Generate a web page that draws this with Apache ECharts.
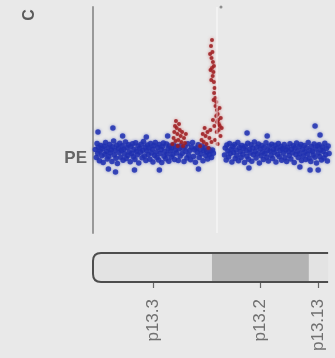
<!DOCTYPE html>
<html><head><meta charset="utf-8">
<script src="https://cdn.jsdelivr.net/npm/echarts@6/dist/echarts.min.js"></script>
<style>html,body{margin:0;padding:0;background:#e9e9e9;}#c{width:335px;height:358px;}</style>
</head><body><div id="c"></div>
<script>
// probe log-ratio values [position, value]
var bluePoints = [
[1.0,0.12],[1.4,-0.28],[1.7,0.42],[2.0,-0.06],[2.3,0.24],[2.7,-0.44],[3.0,0.05],[3.3,0.33],[3.7,-0.19],[4.0,0.16],
[4.3,-0.52],[4.7,0.29],[5.0,-0.11],[5.3,0.47],[5.7,0.02],[6.0,-0.35],[6.3,0.21],[6.7,-0.23],[7.0,0.38],[7.3,-0.04],
[7.7,0.11],[8.0,-0.47],[8.3,0.26],[8.7,0.55],[9.0,-0.15],[9.3,0.08],[9.7,-0.31],[10.0,0.34],[10.3,-0.58],[10.7,0.19],
[11.0,-0.02],[11.3,0.44],[11.7,-0.26],[12.0,0.07],[12.3,0.31],[12.7,-0.41],[13.0,0.14],[13.3,-0.09],[13.7,0.5],[14.0,-0.33],
[14.3,0.22],[14.7,-0.18],[15.0,0.36],[15.3,0.01],[15.7,-0.49],[16.0,0.27],[16.3,-0.07],[16.7,0.41],[17.0,-0.24],[17.3,0.13],
[17.7,-0.38],[18.0,0.46],[18.3,0.04],[18.7,-0.14],[19.0,0.3],[19.3,-0.55],[19.7,0.18],[20.0,-0.01],[20.3,0.39],[20.7,-0.29],
[21.0,0.09],[21.3,0.52],[21.7,-0.2],[22.0,0.25],[22.3,-0.43],[22.7,0.06],[23.0,0.35],[23.3,-0.12],[23.7,0.2],[24.0,-0.36],
[24.3,0.43],[24.7,-0.05],[25.0,0.15],[25.3,-0.5],[25.7,0.32],[26.0,-0.17],[26.3,0.48],[26.7,0.0],[27.0,-0.27],[27.3,0.23],
[27.7,-0.4],[28.0,0.37],[28.3,-0.08],[28.7,0.12],[29.0,-0.53],[29.3,0.28],[29.7,0.45],[30.0,-0.21],[30.3,0.03],[30.7,-0.34],
[31.0,0.4],[31.3,-0.1],[31.7,0.17],[32.0,-0.46],[32.3,0.3],[32.7,0.05],[33.0,-0.25],[33.3,0.22],[33.7,-0.13],[34.0,0.35],
[34.4,-0.37],[34.8,0.1],[35.2,-0.05],[35.6,0.28],[36.0,-0.42],[36.4,0.16],[36.8,-0.2],[37.2,0.33],[37.6,-0.08],[38.0,0.19],
[38.4,-0.48],[38.8,0.26],[39.2,0.02],[39.6,-0.3],[40.0,0.41],[40.4,-0.16],[40.8,0.08],[41.2,-0.39],[41.6,0.24],[42.0,0.47],
[42.4,-0.22],[42.8,0.11],[43.2,-0.51],[43.6,0.2],[44.0,-0.03],[44.4,0.36],[44.8,-0.27],[45.2,0.13],[45.6,-0.1],[46.0,0.3],
[46.4,-0.44],[46.8,0.07],[47.2,0.22],[47.6,-0.18],[48.0,0.0],[48.4,-0.35],[48.8,0.15],[49.2,-0.12],[49.6,0.05],[50.0,-0.28],
[50.4,0.1],[50.8,-0.06],
[2.1,1.0],[8.4,1.2],[6.5,-0.85],[12.5,0.8],[17.5,-0.9],[22.5,0.75],[28.0,-0.9],[44.5,-0.85],[9.5,-1.0],[31.5,0.8],
[55.5,-0.15],[55.8,0.2],[56.2,-0.4],[56.5,0.35],[56.9,0.05],[57.2,-0.25],[57.6,0.42],[57.9,-0.08],[58.3,0.14],[58.6,-0.5],
[59.0,0.27],[59.3,-0.02],[59.7,0.38],[60.0,-0.32],[60.4,0.1],[60.7,-0.17],[61.1,0.48],[61.4,-0.44],[61.8,0.22],[62.1,0.01],
[62.5,-0.28],[62.8,0.33],[63.2,-0.11],[63.5,0.18],[63.9,-0.53],[64.2,0.29],[64.6,0.06],[64.9,-0.21],[65.3,0.44],[65.6,-0.36],
[66.0,0.12],[66.3,-0.05],[66.7,0.36],[67.0,-0.46],[67.4,0.2],[67.7,-0.14],[68.1,0.5],[68.4,0.03],[68.8,-0.3],[69.1,0.25],
[69.5,-0.09],[69.8,0.4],[70.2,-0.55],[70.5,0.15],[70.9,-0.19],[71.2,0.32],[71.6,0.0],[71.9,-0.38],[72.3,0.23],[72.6,-0.07],
[73.0,0.46],[73.3,-0.26],[73.7,0.09],[74.0,-0.45],[74.4,0.3],[74.7,0.05],[75.1,-0.16],[75.4,0.39],[75.8,-0.33],[76.1,0.13],
[76.5,-0.02],[76.8,0.34],[77.2,-0.5],[77.5,0.19],[77.9,-0.12],[78.2,0.43],[78.6,-0.24],[78.9,0.07],[79.3,0.28],[79.6,-0.41],
[80.0,0.16],[80.3,-0.06],[80.7,0.37],[81.0,-0.29],[81.4,0.11],[81.7,-0.47],[82.1,0.24],[82.4,0.02],[82.8,-0.18],[83.1,0.41],
[83.5,-0.35],[83.8,0.14],[84.2,-0.04],[84.5,0.31],[84.9,-0.52],[85.2,0.2],[85.6,-0.13],[85.9,0.45],[86.3,0.04],[86.6,-0.27],
[87.0,0.26],[87.3,-0.09],[87.7,0.38],[88.0,-0.43],[88.4,0.12],[88.7,-0.2],[89.1,0.33],[89.4,0.0],[89.8,-0.37],[90.1,0.21],
[90.5,-0.1],[90.8,0.47],[91.2,-0.31],[91.5,0.08],[91.9,-0.48],[92.2,0.27],[92.6,0.03],[92.9,-0.15],[93.3,0.4],[93.6,-0.26],
[94.0,0.15],[94.3,-0.55],[94.7,0.3],[95.0,-0.05],[95.4,0.36],[95.7,-0.22],[96.1,0.1],[96.4,-0.4],[96.8,0.25],[97.1,0.02],
[97.5,-0.3],[97.8,0.44],[98.2,-0.12],[98.5,0.18],[98.9,-0.45],[99.2,0.3],[99.6,-0.08],
[65.0,0.95],[93.7,1.3],[95.8,0.85],[65.8,-0.8],[91.6,-0.9],[95.0,-0.9],[87.3,-0.75],[73.5,0.8]
];
var redPoints = [
[33.5,0.4],[34.0,0.7],[34.3,1.0],[34.6,1.3],[35.0,1.55],[35.3,1.2],[35.6,0.9],[36.0,0.6],[36.3,1.4],[36.6,1.1],
[37.0,0.8],[37.3,0.5],[37.6,1.0],[38.0,0.3],[38.4,0.7],[38.8,0.45],[39.2,0.9],[35.8,0.3],[34.8,0.55],
[45.2,0.3],[45.8,0.6],[46.3,0.9],[46.7,0.5],[47.1,1.2],[47.5,0.8],[47.9,0.4],[48.3,1.0],[48.7,0.2],[49.1,0.7],
[49.5,1.1],[50.0,0.5],
[50.2,5.6],[49.8,5.3],[50.4,5.0],[50.0,4.7],[50.6,4.5],[50.2,4.2],[50.8,4.0],[50.5,3.8],[51.0,3.5],[51.3,3.2],
[51.1,2.95],[51.6,2.7],[52.0,2.5],[51.7,2.3],[52.3,2.1],[52.6,1.9],[52.0,1.8],[52.8,1.6],[53.1,1.4],[52.4,1.5],
[53.5,1.3],[53.0,1.1],[52.2,1.0],[53.8,0.8],[51.5,0.6],[52.6,0.4],
[49.4,4.9],[49.6,4.1],[51.0,4.3],[49.9,3.6],[50.9,2.6],[53.4,2.2],[53.9,1.7],[54.3,1.2],[50.6,1.6],[51.2,1.3]
];
var outlierPoints = [[54.0,7.25]];
var markerLine = 52.3;
// ideogram bands [start, end, stain]
var bands = [[0, 50.2, 'pale'], [50.2, 91.1, 'gray'], [91.1, 99.2, 'pale']];
var chromExtent = [[0, 99.2]];
var bandLabels = ['p13.3', 'p13.2', 'p13.13'];
var bandLabelPos = [25.3, 70.5, 94.9];
var trackLabel = 'PE';
var panelLetter = 'C';

var chart = echarts.init(document.getElementById('c'));
var fontFam = 'Liberation Sans, Arial, sans-serif';
chart.setOption({
  backgroundColor: '#e9e9e9',
  animation: false,
  graphic: [{
    type: 'text', x: 30, y: 15, rotation: Math.PI / 2,
    style: { text: panelLetter, fill: '#5a5a5a', font: 'bold 16px ' + fontFam, align: 'center', verticalAlign: 'middle' }
  }],
  grid: [
    { left: 93, right: 5, top: 7, bottom: 125 },
    { left: 93, right: 5, top: 253, bottom: 76 }
  ],
  xAxis: [
    { gridIndex: 0, type: 'value', min: 0, max: 100, show: false },
    { gridIndex: 1, type: 'value', min: 0, max: 100, position: 'bottom', offset: 8,
      axisLine: { show: false }, splitLine: { show: false },
      axisTick: { show: true, customValues: bandLabelPos, length: 6, lineStyle: { color: '#666', width: 1.2 } },
      axisLabel: { show: true, customValues: bandLabelPos, rotate: 90, margin: 9,
        color: '#707070', fontSize: 17, fontFamily: fontFam,
        formatter: function (v) { var i = bandLabelPos.indexOf(v); return i >= 0 ? bandLabels[i] : ''; } } }
  ],
  yAxis: [
    { gridIndex: 0, type: 'value', min: -4.05, max: 7.25,
      axisLine: { show: true, lineStyle: { color: '#999', width: 2 } },
      axisTick: { show: false }, splitLine: { show: false },
      axisLabel: { show: true, customValues: [-0.3], margin: 6, color: '#666', fontSize: 17, fontWeight: 'bold', fontFamily: fontFam,
        formatter: function () { return trackLabel; } } },
    { gridIndex: 1, type: 'value', min: 0, max: 1, show: false }
  ],
  series: [
    { type: 'scatter', xAxisIndex: 0, yAxisIndex: 0, data: bluePoints, symbolSize: 5.5,
      itemStyle: { color: '#2233b2', opacity: 0.85, shadowBlur: 3, shadowColor: 'rgba(34,51,178,0.6)' }, silent: true,
      markLine: { silent: true, symbol: 'none', label: { show: false },
        lineStyle: { color: 'rgba(255,255,255,0.4)', type: 'solid', width: 2 },
        data: [{ xAxis: markerLine }] } },
    { type: 'scatter', xAxisIndex: 0, yAxisIndex: 0, data: redPoints, symbolSize: 4,
      itemStyle: { color: '#9c1c20', opacity: 0.85, shadowBlur: 3, shadowColor: 'rgba(200,60,60,0.6)' }, silent: true },
    { type: 'scatter', xAxisIndex: 0, yAxisIndex: 0, data: outlierPoints, symbolSize: 3,
      itemStyle: { color: '#777' }, silent: true },
    { type: 'custom', xAxisIndex: 1, yAxisIndex: 1, data: bands, silent: true,
      renderItem: function (params, api) {
        var p0 = api.coord([api.value(0), 1]);
        var p1 = api.coord([api.value(1), 0]);
        var stain = bands[params.dataIndex][2];
        return { type: 'rect',
          shape: { x: p0[0], y: p0[1], width: p1[0] - p0[0], height: p1[1] - p0[1], r: params.dataIndex === 0 ? [8, 0, 0, 8] : 0 },
          style: { fill: stain === 'gray' ? '#b3b3b3' : '#e3e3e3' } };
      } },
    { type: 'custom', xAxisIndex: 1, yAxisIndex: 1, data: chromExtent, silent: true,
      renderItem: function (params, api) {
        var a = api.coord([api.value(0), 1]);
        var b = api.coord([api.value(1), 0]);
        var x0 = a[0], x1 = b[0], t = a[1], bt = b[1], r = 8;
        var d = 'M' + x1 + ' ' + t + ' L' + (x0 + r) + ' ' + t + ' Q' + x0 + ' ' + t + ' ' + x0 + ' ' + (t + r) +
          ' L' + x0 + ' ' + (bt - r) + ' Q' + x0 + ' ' + bt + ' ' + (x0 + r) + ' ' + bt + ' L' + x1 + ' ' + bt;
        return { type: 'path', shape: { pathData: d }, style: { fill: 'none', stroke: '#4d4d4d', lineWidth: 2 } };
      } }
  ]
});
</script></body></html>
